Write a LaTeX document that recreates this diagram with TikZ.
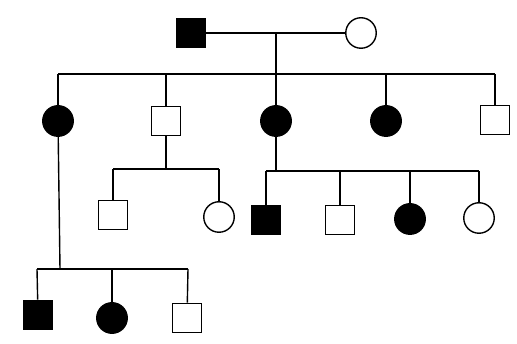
\documentclass[tikz,border=0pt]{standalone}
\begin{document}
\begin{tikzpicture}[x=1pt,y=-1pt,
  lw/.style={line width=1.4pt},
  male/.style={draw,lw,rectangle,minimum size=29.5pt,inner sep=0pt},
  female/.style={draw,lw,circle,minimum size=30.5pt,inner sep=0pt},
  aff/.style={fill=black},
  link/.style={lw}]
\useasboundingbox (0,0) rectangle (517,344);
% Generation I
\node[male,aff] (i1) at (191,33) {};
\node[female] (i2) at (361,33) {};
% Generation II
\node[female,aff] (ii1) at (58,121) {};
\node[male] (ii2) at (166,121) {};
\node[female,aff] (ii3) at (276,121) {};
\node[female,aff] (ii4) at (386,121) {};
\node[male] (ii5) at (495,120) {};
% Generation III
\node[male] (iii1) at (113,215) {};
\node[female] (iii2) at (219,217) {};
\node[male,aff] (iii3) at (266,220) {};
\node[male] (iii4) at (340,220) {};
\node[female,aff] (iii5) at (410,219) {};
\node[female] (iii6) at (479,218) {};
% Generation IV
\node[male,aff] (iv1) at (38,315) {};
\node[female,aff] (iv2) at (112,318) {};
\node[male] (iv3) at (187,318) {};
% junction coordinates
\coordinate (m1) at (276,33);
\coordinate (s1) at (276,74);
\coordinate (s1l) at (58,74);
\coordinate (s1r) at (495,74);
\coordinate (s2) at (166,169);
\coordinate (s2l) at (113,169);
\coordinate (s2r) at (219,169);
\coordinate (s3) at (276,171);
\coordinate (s3l) at (266,171);
\coordinate (s3r) at (479,171);
\coordinate (s4) at (60,269);
\coordinate (s4l) at (37,269);
\coordinate (s4r) at (188,269);
% marriage and descent
\draw[link] (i1) -- (i2);
\draw[link] (m1) -- (s1);
\draw[link] (s1l) -- (s1r);
\draw[link] (s1l) -- (ii1);
\draw[link] (ii2 |- s1) -- (ii2);
\draw[link] (ii3 |- s1) -- (ii3);
\draw[link] (ii4 |- s1) -- (ii4);
\draw[link] (s1r) -- (ii5);
% II2 children
\draw[link] (ii2) -- (s2);
\draw[link] (s2l) -- (s2r);
\draw[link] (s2l) -- (iii1);
\draw[link] (s2r) -- (iii2);
% II3 children
\draw[link] (ii3) -- (s3);
\draw[link] (s3l) -- (s3r);
\draw[link] (s3l) -- (iii3);
\draw[link] (iii4 |- s3) -- (iii4);
\draw[link] (iii5 |- s3) -- (iii5);
\draw[link] (s3r) -- (iii6);
% II1 children
\draw[link] (ii1) -- (s4);
\draw[link] (s4l) -- (s4r);
\draw[link] (s4l) -- (iv1);
\draw[link] (iv2 |- s4) -- (iv2);
\draw[link] (s4r) -- (iv3);
\end{tikzpicture}
\end{document}
